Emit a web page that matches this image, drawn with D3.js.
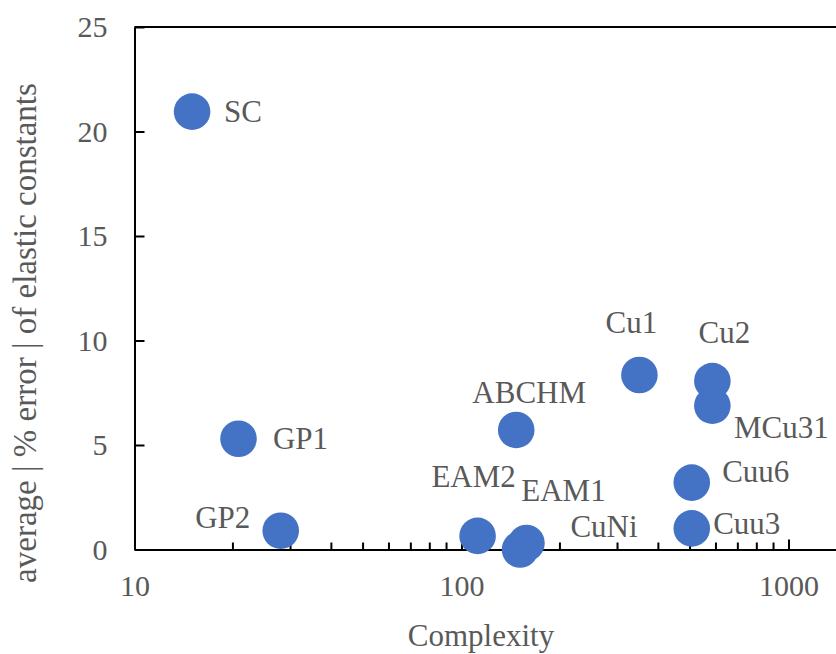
<!DOCTYPE html>
<html>
<head>
<meta charset="utf-8">
<script src="https://cdn.jsdelivr.net/npm/d3@7/dist/d3.min.js"></script>
<style>
  html, body { margin: 0; padding: 0; background: #fff; overflow: hidden; }
  svg { display: block; }
</style>
</head>
<body>
<svg id="chart" width="836" height="654"></svg>
<script>
// ---- data ----
const names = ["SC", "GP1", "GP2", "EAM2", "EAM1", "CuNi", "ABCHM", "Cu1", "Cu2", "MCu31", "Cuu6", "Cuu3"];
const complexity = [15, 20.8, 28, 112, 158, 151, 147, 350, 585, 585, 506, 506];
const avgError = [20.95, 5.3, 0.9, 0.65, 0.31, 0.0, 5.72, 8.35, 8.06, 6.88, 3.2, 1.01];
const xTickValues = [10, 100, 1000];
const yTickValues = [0, 5, 10, 15, 20, 25];
const xTitle = "Complexity";
const yTitle = "average | % error | of elastic constants";

// ---- label placement (pixel offsets from point centre) ----
const labelOffsets = {
  SC: [51, 0], GP1: [62, 0], GP2: [-58, -13], EAM2: [-4, -59], EAM1: [37, -53],
  CuNi: [84, -23], ABCHM: [13, -37], Cu1: [-8, -52], Cu2: [12, -49],
  MCu31: [69, 22], Cuu6: [64, -11], Cuu3: [55, -5]
};

const FONT = "Liberation Serif";
const TXT = "#595959";

const svg = d3.select("#chart");
const plotLeft = 134.5, plotTop = 27, plotBottom = 549.5;
const decade = 327;
const xMax = 1400;
const plotRight = plotLeft + Math.log10(xMax / 10) * decade;

const x = d3.scaleLog().domain([10, xMax]).range([plotLeft, plotRight]);
const y = d3.scaleLinear().domain([0, 25]).range([plotBottom, plotTop]);

const data = names.map((n, i) => ({ name: n, cx: complexity[i], cy: avgError[i] }));

// frame: top border
svg.append("line").attr("x1", plotLeft).attr("x2", plotRight).attr("y1", plotTop).attr("y2", plotTop)
  .attr("stroke", "#000").attr("stroke-width", 2);

// y axis
const yAxis = d3.axisLeft(y).tickValues(yTickValues).tickSizeInner(-10).tickSizeOuter(0).tickPadding(27).tickFormat(d3.format("d"));
const gy = svg.append("g").attr("transform", `translate(${plotLeft},0)`).call(yAxis)
  .attr("font-family", FONT).attr("font-size", 30);
gy.select(".domain").attr("stroke", "#000").attr("stroke-width", 2);
gy.selectAll(".tick line").attr("stroke", "#000").attr("stroke-width", 2);
gy.selectAll(".tick text").attr("font-size", 30).attr("fill", TXT).attr("font-family", FONT);

// x axis minor ticks
const minorTicks = [];
[10, 100, 1000].forEach(base => { for (let k = 2; k <= 9; k++) { const v = base * k; if (v <= xMax) minorTicks.push(v); } });
svg.append("g").selectAll("line").data(minorTicks).join("line")
  .attr("x1", d => x(d)).attr("x2", d => x(d)).attr("y1", plotBottom).attr("y2", plotBottom - 7)
  .attr("stroke", "#000").attr("stroke-width", 2);

const xAxis = d3.axisBottom(x).tickValues(xTickValues).tickSizeInner(-10).tickSizeOuter(0).tickPadding(25).tickFormat(d3.format("d"));
const gx = svg.append("g").attr("transform", `translate(0,${plotBottom})`).call(xAxis)
  .attr("font-family", FONT).attr("font-size", 30);
gx.select(".domain").attr("stroke", "#000").attr("stroke-width", 2);
gx.selectAll(".tick line").attr("stroke", "#000").attr("stroke-width", 2);
gx.selectAll(".tick text").attr("font-size", 30).attr("fill", TXT).attr("font-family", FONT);

// points
svg.append("g").selectAll("circle").data(data).join("circle")
  .attr("cx", d => x(d.cx)).attr("cy", d => y(d.cy)).attr("r", 18.3)
  .attr("fill", "#4472C4");

// data labels
svg.append("g").selectAll("text").data(data).join("text")
  .attr("x", d => x(d.cx) + labelOffsets[d.name][0])
  .attr("y", d => y(d.cy) + labelOffsets[d.name][1])
  .attr("text-anchor", "middle").attr("dominant-baseline", "central")
  .attr("font-family", FONT).attr("fill", TXT)
  .attr("font-size", 31).text(d => d.name);

// axis titles
svg.append("text").attr("x", 481).attr("y", 635).attr("text-anchor", "middle")
  .attr("dominant-baseline", "central").attr("font-family", FONT).attr("fill", TXT)
  .attr("font-size", 31).text(xTitle);
svg.append("text").attr("transform", "translate(25,333) rotate(-90)").attr("text-anchor", "middle")
  .attr("dominant-baseline", "central").attr("font-family", FONT).attr("fill", TXT)
  .attr("font-size", 33).text(yTitle);
</script>
</body>
</html>
